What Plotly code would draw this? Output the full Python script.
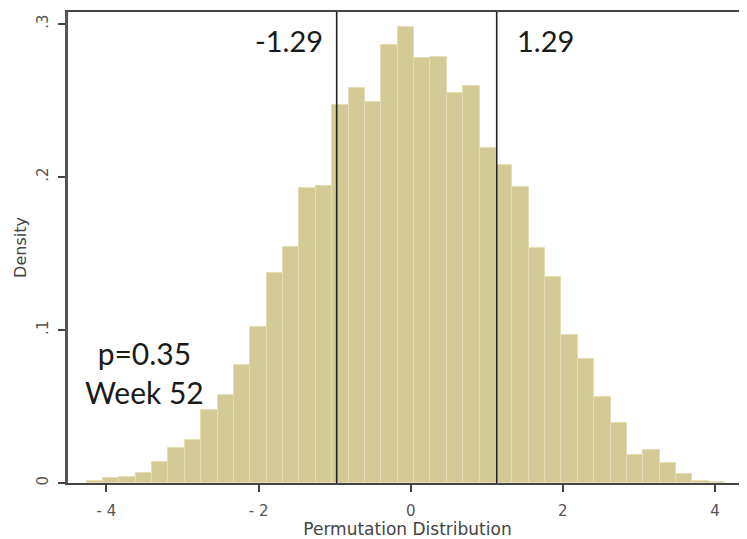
import plotly.graph_objects as go

# Histogram bin centres (permutation statistic) and densities
bin_centers = [-4.154, -3.939, -3.724, -3.508, -3.293, -3.078, -2.862, -2.647,
               -2.432, -2.217, -2.001, -1.786, -1.571, -1.355, -1.140, -0.925,
               -0.709, -0.494, -0.279, -0.064, 0.152, 0.367, 0.582, 0.798,
               1.013, 1.228, 1.444, 1.659, 1.874, 2.090, 2.305, 2.520,
               2.735, 2.951, 3.166, 3.381, 3.597, 3.812, 4.027]
density = [0.001, 0.003, 0.004, 0.0063, 0.0139, 0.0229, 0.0281, 0.0477,
           0.0578, 0.0771, 0.1018, 0.137, 0.1545, 0.1926, 0.194, 0.247,
           0.258, 0.249, 0.286, 0.298, 0.2776, 0.2786, 0.2547, 0.2595,
           0.2188, 0.2078, 0.1937, 0.1534, 0.1348, 0.0967, 0.0808, 0.0564,
           0.039, 0.0183, 0.0216, 0.0129, 0.0059, 0.0015, 0.0008]
bin_width = 0.2153

# Reference lines and their labels
ref_positions = [-0.973, 1.131]
ref_labels = ["-1.29", "1.29"]
p_text = "p=0.35<br>Week 52"

x_ticks = [-4, -2, 0, 2, 4]
y_ticks = [0, 0.1, 0.2, 0.3]
y_ticklabels = ["0", ".1", ".2", ".3"]

fig = go.Figure()
fig.add_trace(go.Bar(
    x=bin_centers, y=density, width=bin_width,
    marker=dict(color="rgb(211,202,150)", line=dict(color="rgb(228,221,182)", width=1)),
    showlegend=False,
))

for xv in ref_positions:
    fig.add_shape(type="line", x0=xv, x1=xv, y0=0, y1=1, xref="x", yref="paper",
                  line=dict(color="#222222", width=1.6))

fig.add_annotation(x=-1.126, y=0.2895, text=ref_labels[0], showarrow=False,
                   xanchor="right", yanchor="middle",
                   font=dict(family="Lato", size=29, color="#1a1a1a"))
fig.add_annotation(x=1.371, y=0.2895, text=ref_labels[1], showarrow=False,
                   xanchor="left", yanchor="middle",
                   font=dict(family="Lato", size=29, color="#1a1a1a"))
fig.add_annotation(x=-3.505, y=0.0725, text=p_text, showarrow=False,
                   xanchor="center", yanchor="middle", align="center",
                   font=dict(family="Lato", size=30, color="#1a1a1a"))

# page has an 8px body margin, so the figure is sized to fit the window
fig.update_layout(
    template="none",
    width=739, height=531,
    margin=dict(l=60, r=0, t=4, b=56, autoexpand=False),
    plot_bgcolor="white", paper_bgcolor="white",
    bargap=0,
    font=dict(family="DejaVu Sans", color="#555555"),
)
fig.update_xaxes(
    automargin=False,
    range=[-4.506, 4.422], tickvals=x_ticks, ticktext=[str(v).replace("-", "- ") for v in x_ticks],
    ticks="outside", ticklen=7, tickwidth=1.5, tickcolor="#444444",
    showline=True, linecolor="#444444", linewidth=2, mirror=True,
    showgrid=False, zeroline=False, ticklabelstandoff=6,
    tickfont=dict(family="DejaVu Sans", size=15, color="#555555"),
    title=dict(text="Permutation Distribution", font=dict(family="DejaVu Sans", size=17, color="#444444"), standoff=0),
)
fig.update_yaxes(
    automargin=False,
    range=[0, 0.3078], tickvals=y_ticks, ticktext=y_ticklabels, tickangle=-90,
    ticks="outside", ticklen=7, tickwidth=1.5, tickcolor="#444444",
    showline=True, linecolor="#555555", linewidth=2.5,
    showgrid=False, zeroline=False, ticklabelstandoff=4,
    tickfont=dict(family="DejaVu Sans", size=15, color="#555555"),
    title=dict(text="Density", font=dict(family="DejaVu Sans", size=16, color="#444444"), standoff=4),
)

fig.write_html("out.html")
